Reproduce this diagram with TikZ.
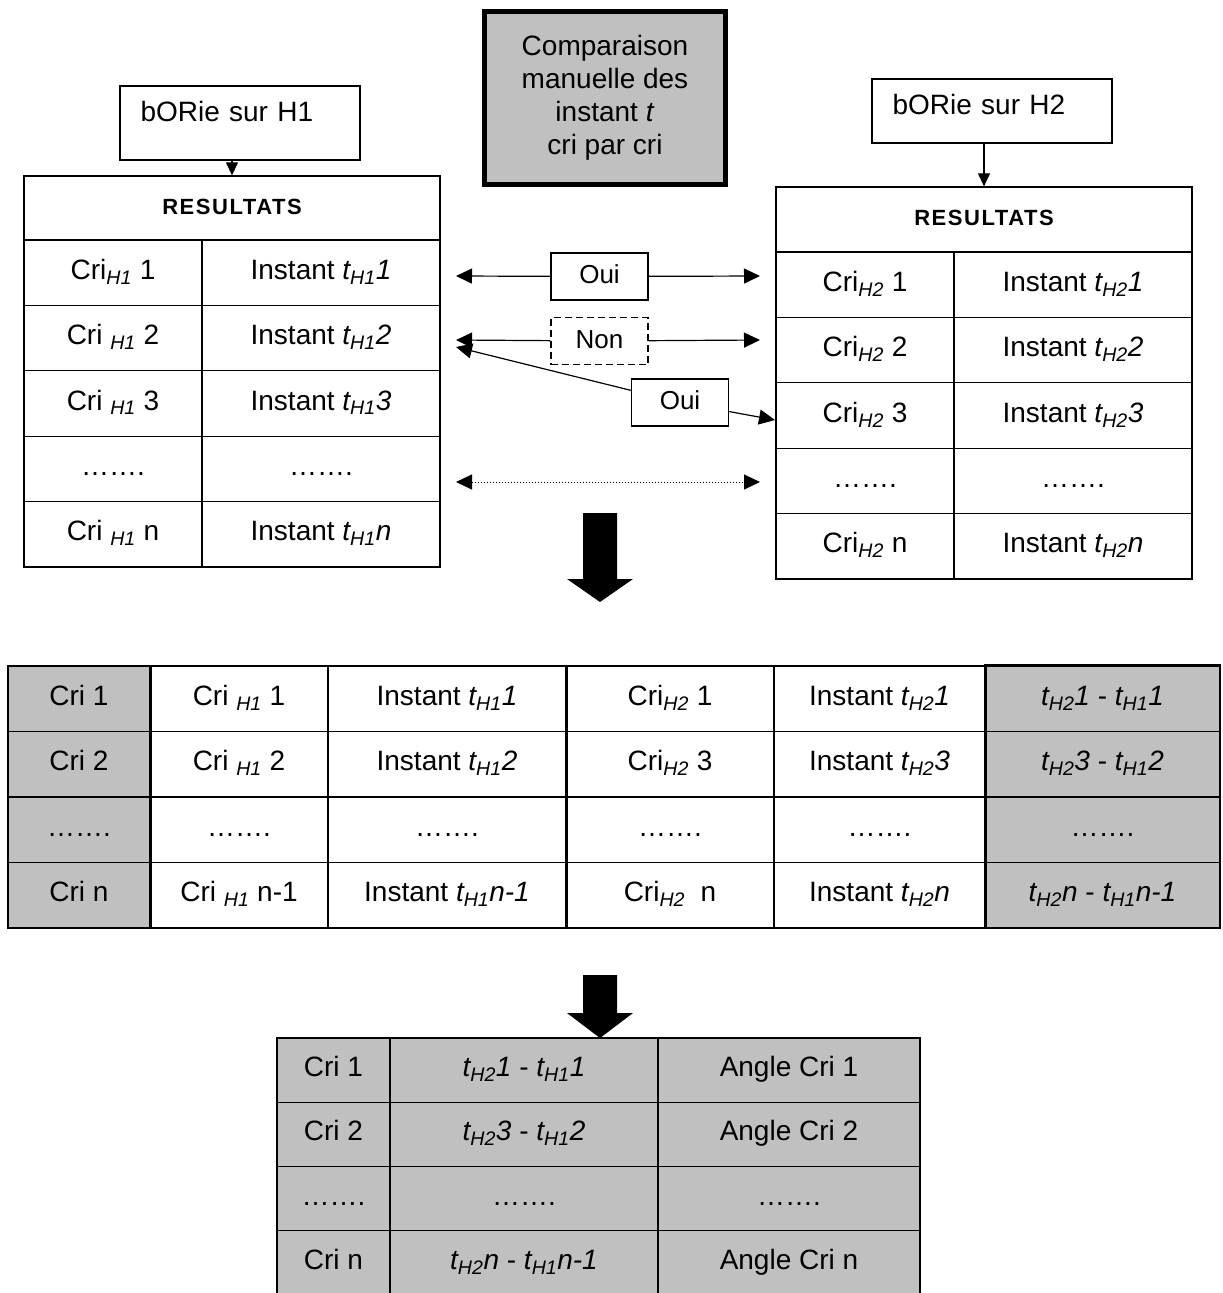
\documentclass[tikz,border=0pt]{standalone}
\usepackage{fontspec}
\setmainfont{Liberation Sans}
\usetikzlibrary{arrows.meta,calc,positioning}
\definecolor{cellgray}{RGB}{192,192,192}
\newcommand{\hsub}[1]{\textsubscript{\textit{H#1}}}
\newcommand{\tih}[2]{\textit{t\hsub{#1}#2}}
\newcommand{\resfont}{\fontsize{22}{26}\selectfont\bfseries\addfontfeatures{LetterSpace=7}}

\begin{document}
\begin{tikzpicture}[x=1pt,y=-1pt,
  every node/.style={font=\fontsize{28}{33}\selectfont},
  cell/.style={draw, line width=1.3pt, inner sep=0pt, minimum height=65.4pt, text height=20pt, text depth=7pt},
  grcell/.style={cell, fill=cellgray},
  srcbox/.style={draw, line width=1.3pt, text width=199pt, inner xsep=20.5pt, inner ysep=0pt, align=left, text height=20pt},
  okbox/.style={draw, line width=1.5pt, fill=white, inner sep=0pt, minimum width=97pt, minimum height=47pt,
    text height=19pt, text depth=5pt, font=\fontsize{26}{30}\selectfont},
  conn/.style={-{Triangle[length=16pt,width=15pt]}, line width=1.2pt},
  down/.style={-{Triangle[length=13pt,width=12pt]}, line width=1.2pt}]
\useasboundingbox (0,0) rectangle (1223,1293);

% Comparison box
\node[draw, line width=5pt, fill=cellgray, minimum width=241pt, minimum height=173pt, align=center] (cmp) at (605,98)
  {Comparaison\\manuelle des\\instant \textit{t}\\cri par cri};

% Left table (H1)
\node[srcbox, minimum height=74pt, text depth=24pt] (bh1) at (240,123) {bORie sur H1};
\node[cell, minimum width=416pt, minimum height=64pt, font=\resfont, text height=16pt, text depth=4pt] (lhead) at (232,208) {RESULTATS};
\draw[down] (lhead.north |- bh1.south) -- (lhead.north);
\foreach \i/\a/\b [evaluate=\i as \y using 272.7+(\i-1)*65.4] in
  {1/{Cri\hsub{1}~1}/{Instant \tih{1}{1}},
   2/{Cri \hsub{1} 2}/{Instant \tih{1}{2}},
   3/{Cri \hsub{1} 3}/{Instant \tih{1}{3}},
   4/{…….}/{…….},
   5/{Cri \hsub{1} n}/{Instant \tih{1}{n}}}{
  \node[cell, minimum width=178pt] (la\i) at (113,\y) {\a};
  \node[cell, minimum width=238pt] (lb\i) at (321,\y) {\b};
}

% Right table (H2)
\node[srcbox, minimum height=64pt, text depth=14pt] (bh2) at (992,111) {bORie sur H2};
\node[cell, minimum width=416pt, minimum height=65pt, font=\resfont, text height=16pt, text depth=4pt] (rhead) at (984,219.5) {RESULTATS};
\draw[down] (rhead.north |- bh2.south) -- (rhead.north);
\foreach \i/\a/\b [evaluate=\i as \y using 284.7+(\i-1)*65.4] in
  {1/{Cri\hsub{2} 1}/{Instant \tih{2}{1}},
   2/{Cri\hsub{2} 2}/{Instant \tih{2}{2}},
   3/{Cri\hsub{2} 3}/{Instant \tih{2}{3}},
   4/{…….}/{…….},
   5/{Cri\hsub{2} n}/{Instant \tih{2}{n}}}{
  \node[cell, minimum width=178pt] (ra\i) at (865,\y) {\a};
  \node[cell, minimum width=238pt] (rb\i) at (1073,\y) {\b};
}

% Matching links
\node[okbox] (oui1) at (599.5,276.5) {Oui};
\coordinate (o1l) at (456,276);
\coordinate (o1r) at (760,276);
\draw[conn] (oui1) -- (o1l);
\draw[conn] (oui1) -- (o1r);

\node[okbox, dash pattern=on 7pt off 4pt, line width=1.3pt] (non) at (599.5,341) {Non};
\coordinate (n1l) at (456,340);
\coordinate (n1r) at (760,340);
\draw[conn] (non) -- (n1l);
\draw[conn] (non) -- (n1r);

\node[okbox] (oui2) at (680,402.5) {Oui};
\coordinate (o2l) at (456,347);
\coordinate (o2r) at (775,420);
\draw[conn] (oui2) -- (o2l);
\draw[conn] (oui2) -- (o2r);

\coordinate (dl) at (456,482);
\coordinate (dr) at (760,482);
\draw[{Triangle[length=16pt,width=15pt]}-{Triangle[length=16pt,width=15pt]}, line width=1pt, dotted] (dl) -- (dr);

% Big arrows
\fill (583,513) -- (617,513) -- (617,579) -- (633,579) -- (600,602) -- (567,579) -- (583,579) -- cycle;
\fill (583,975) -- (617,975) -- (617,1013) -- (633,1013) -- (600,1038) -- (567,1013) -- (583,1013) -- cycle;

% Merged table
\foreach \i/\a/\b/\c/\d/\e/\f [evaluate=\i as \y using 698.75+(\i-1)*65.5] in
  {1/{Cri 1}/{Cri \hsub{1} 1}/{Instant \tih{1}{1}}/{Cri\hsub{2} 1}/{Instant \tih{2}{1}}/{\tih{2}{1} - \tih{1}{1}},
   2/{Cri 2}/{Cri \hsub{1} 2}/{Instant \tih{1}{2}}/{Cri\hsub{2} 3}/{Instant \tih{2}{3}}/{\tih{2}{3} - \tih{1}{2}},
   3/{…….}/{…….}/{…….}/{…….}/{…….}/{…….},
   4/{Cri n}/{Cri \hsub{1} n-1}/{Instant \tih{1}{n-1}}/{Cri\hsub{2}\ \ n}/{Instant \tih{2}{n}}/{\tih{2}{n} - \tih{1}{n-1}}}{
  \node[grcell, minimum width=142pt, minimum height=65.5pt] (ma\i) at (79,\y) {\a};
  \node[cell, minimum width=178pt, minimum height=65.5pt] (mb\i) at (239,\y) {\b};
  \node[cell, minimum width=238pt, minimum height=65.5pt] (mc\i) at (447,\y) {\c};
  \node[cell, minimum width=208pt, minimum height=65.5pt] (md\i) at (670,\y) {\d};
  \node[cell, minimum width=211pt, minimum height=65.5pt] (me\i) at (879.5,\y) {\e};
  \node[grcell, minimum width=235pt, minimum height=65.5pt] (mf\i) at (1102.5,\y) {\f};
}
\draw[line width=3pt] (ma1.north east) -- (ma4.south east);
\draw[line width=3pt] (mc1.north east) -- (mc4.south east);
\draw[line width=3pt] (me1.north east) -- (me4.south east);
\draw[line width=2.5pt] (mf1.north west) -- (mf1.north east);

% Angle table
\foreach \i/\a/\b/\c [evaluate=\i as \y using 1070+(\i-1)*64.3] in
  {1/{Cri 1}/{\tih{2}{1} - \tih{1}{1}}/{Angle Cri 1},
   2/{Cri 2}/{\tih{2}{3} - \tih{1}{2}}/{Angle Cri 2},
   3/{…….}/{…….}/{…….},
   4/{Cri n}/{\tih{2}{n} - \tih{1}{n-1}}/{Angle Cri n}}{
  \node[grcell, minimum width=113pt, minimum height=64.3pt] (aa\i) at (333.5,\y) {\a};
  \node[grcell, minimum width=268pt, minimum height=64.3pt] (ab\i) at (524,\y) {\b};
  \node[grcell, minimum width=262pt, minimum height=64.3pt] (ac\i) at (789,\y) {\c};
}
\end{tikzpicture}
\end{document}
